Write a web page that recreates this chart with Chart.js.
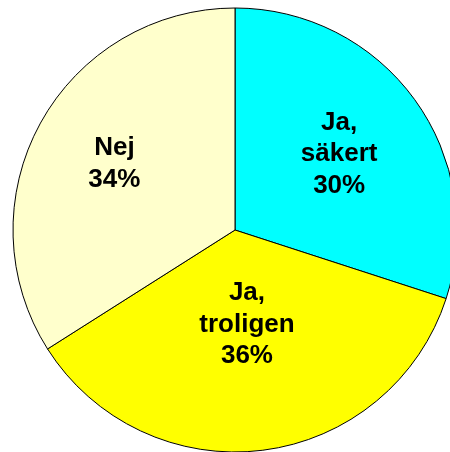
<!DOCTYPE html>
<html>
<head>
<meta charset="utf-8">
<script src="https://cdn.jsdelivr.net/npm/chart.js@4/dist/chart.umd.min.js"></script>
<style>
    html, body { margin: 0; padding: 0; background: #fff; overflow: hidden; }
    canvas { display: block; }
</style>
</head>
<body>
<canvas id="pie" width="470" height="460"></canvas>
<script>
// Svarsandelar (%)
const categories = ['Ja, säkert', 'Ja, troligen', 'Nej'];
const values = [30, 36, 34];
const sliceColors = ['#00FFFF', '#FFFF00', '#FFFFCC'];

// Draws "Ja,\nsäkert\n30%" style labels inside each slice
const sliceLabels = {
    id: 'sliceLabels',
    afterDatasetsDraw(chart, args, opts) {
        const ctx = chart.ctx;
        const meta = chart.getDatasetMeta(0);
        ctx.save();
        ctx.font = opts.font;
        ctx.fillStyle = '#000';
        ctx.textAlign = 'center';
        ctx.textBaseline = 'middle';
        meta.data.forEach((arc, i) => {
            const p = arc.getProps(['x', 'y', 'startAngle', 'endAngle', 'outerRadius'], true);
            const mid = (p.startAngle + p.endAngle) / 2;
            const r = p.outerRadius * opts.radiusFraction[i];
            const cx = p.x + Math.cos(mid) * r;
            const cy = p.y + Math.sin(mid) * r;
            const lines = categories[i].split(', ');
            if (lines.length > 1) lines[0] += ',';
            lines.push(values[i] + '%');
            const top = cy - (lines.length - 1) * opts.lineHeight / 2;
            lines.forEach((t, j) => ctx.fillText(t, cx, top + j * opts.lineHeight));
        });
        ctx.restore();
    }
};

new Chart(document.getElementById('pie'), {
    type: 'pie',
    data: {
        labels: categories,
        datasets: [{
            data: values,
            backgroundColor: sliceColors,
            borderColor: '#000',
            borderWidth: 1
        }]
    },
    options: {
        responsive: false,
        animation: false,
        events: [],
        radius: 222,
        plugins: {
            legend: { display: false },
            tooltip: { enabled: false },
            sliceLabels: {
                font: 'bold 26px "Liberation Sans", Arial, sans-serif',
                lineHeight: 31.5,
                radiusFraction: [0.58, 0.43, 0.62]
            }
        }
    },
    plugins: [sliceLabels]
});
</script>
</body>
</html>
